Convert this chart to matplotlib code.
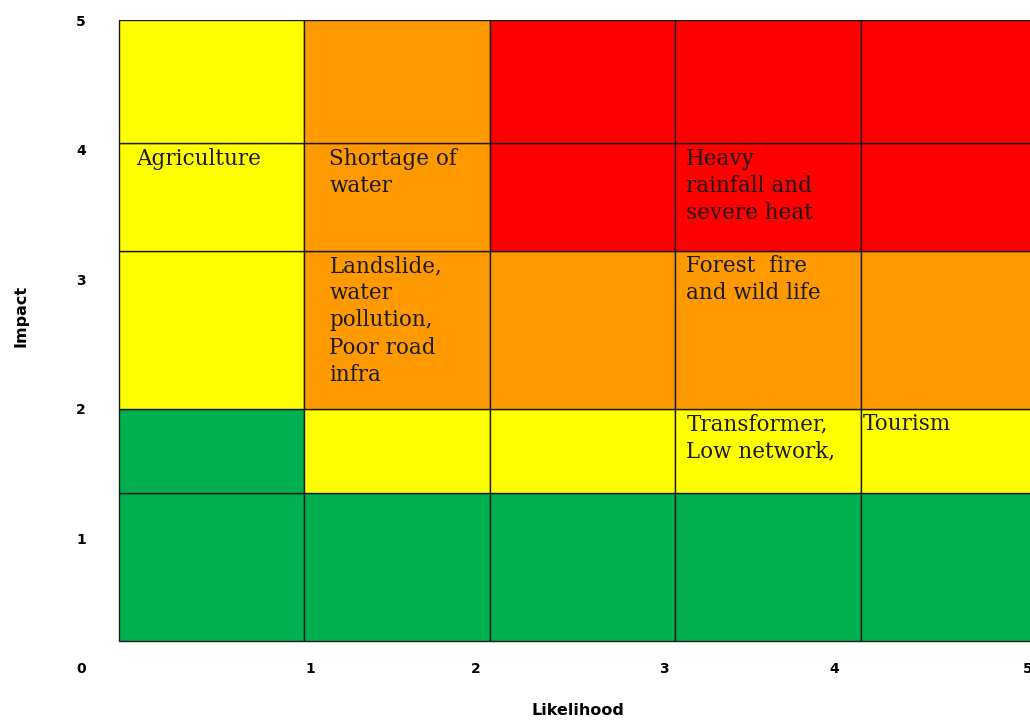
import numpy as np
import matplotlib
matplotlib.use("Agg")
import matplotlib.pyplot as plt
from matplotlib.patches import Rectangle

# risk matrix: colour of each cell, rows listed bottom -> top, columns = likelihood
row_edges = [0.21, 1.35, 2.0, 3.22, 4.05, 5.0]   # impact scale
col_edges = [0, 1, 2, 3, 4, 5]                   # likelihood columns
cell_colors = [
    ["G", "G", "G", "G", "G"],
    ["G", "Y", "Y", "Y", "Y"],
    ["Y", "O", "O", "O", "O"],
    ["Y", "O", "R", "R", "R"],
    ["Y", "O", "R", "R", "R"],
]
palette = {"G": "#00B050", "Y": "#FFFF00", "O": "#FF9900", "R": "#FF0000"}

# risk items: (column, row, text)
risk_cols = [0, 1, 1, 3, 3, 3, 4]
risk_rows = [3, 3, 2, 3, 2, 1, 1]
risk_text = [
    "Agriculture",
    "Shortage of\nwater",
    "Landslide,\nwater\npollution,\nPoor road\ninfra",
    "Heavy\nrainfall and\nsevere heat",
    "Forest  fire\nand wild life",
    "Transformer,\nLow network,",
    "Tourism",
]
# horizontal indent of each text inside its cell (in column units)
text_indent = [0.09, 0.135, 0.135, 0.06, 0.06, 0.06, 0.01]

x_tick_labels = ["0", "1", "2", "3", "4", "5"]
x_tick_pos = [-0.205, 1.03, 1.925, 2.94, 3.86, 4.9]
y_ticks = [1, 2, 3, 4, 5]   # the shared "0" comes from the x axis

fig = plt.figure(figsize=(10.3, 7.2), dpi=100)
W, H = 1030, 720
left, right, top, bottom = 81, 1046, 20, 668
ax = fig.add_axes([left / W, 1 - bottom / H, (right - left) / W, (bottom - top) / H])
ax.set_xlim(-0.205, 5)
ax.set_ylim(0, 5)

for r in range(5):
    for c in range(5):
        ax.add_patch(Rectangle((col_edges[c], row_edges[r]),
                               col_edges[c + 1] - col_edges[c],
                               row_edges[r + 1] - row_edges[r],
                               facecolor=palette[cell_colors[r][c]],
                               edgecolor="#1a1a1a", linewidth=1.0))

for c, r, txt, dx in zip(risk_cols, risk_rows, risk_text, text_indent):
    ax.text(col_edges[c] + dx, row_edges[r + 1] - 0.035, txt,
            family="DejaVu Serif", fontsize=15.5, color="#1a1a1a",
            ha="left", va="top", linespacing=1.3)

for s in ax.spines.values():
    s.set_visible(False)

tick_font = dict(family=["Liberation Sans Narrow", "DejaVu Sans"], weight="bold", size=10)
ax.set_xticks(x_tick_pos)
ax.set_xticklabels(x_tick_labels, **tick_font)
ax.set_yticks(y_ticks)
ax.set_yticklabels([str(v) for v in y_ticks], **tick_font)
ax.tick_params(axis="x", length=0, pad=1)
ax.tick_params(axis="y", length=0, pad=0)
for lab in ax.get_xticklabels():
    lab.set_va("center")
for lab in ax.get_yticklabels():
    lab.set_ha("center")

label_font = dict(tick_font, size=11.5)
ax.set_xlabel("Likelihood", **label_font)
ax.set_ylabel("Impact", **label_font)
ax.xaxis.set_label_coords((578 - left) / (right - left), -(703 - bottom) / (bottom - top))
ax.yaxis.set_label_coords((29 - left) / (right - left), (bottom - 316) / (bottom - top))

fig.savefig("out.png", dpi=100)
